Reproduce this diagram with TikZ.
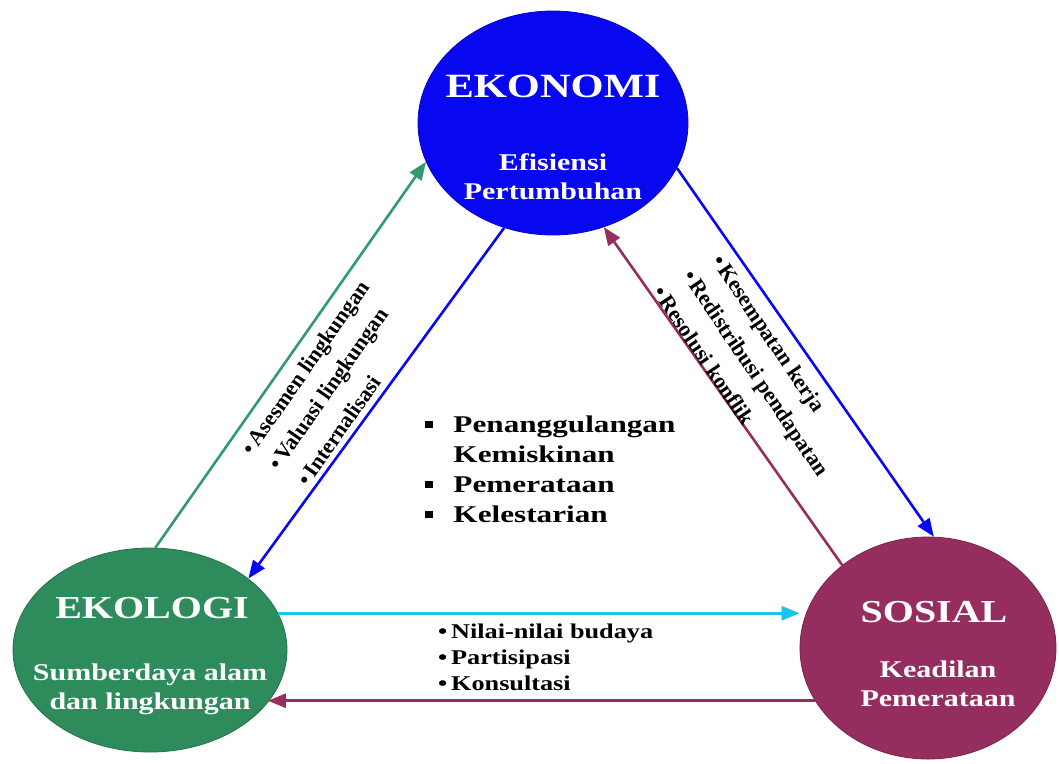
\documentclass[tikz,border=0pt]{standalone}
\usepackage{fontspec}
\setmainfont{Liberation Serif}
\usetikzlibrary{shapes.geometric, arrows.meta, positioning, calc}
\definecolor{ekoblue}{RGB}{8,8,240}
\definecolor{ekogreen}{RGB}{46,140,92}
\definecolor{sosred}{RGB}{150,45,95}
\definecolor{arrgreen}{RGB}{50,155,110}
\definecolor{arrcyan}{RGB}{30,195,235}
\newcommand{\wide}[2][1.25]{\scalebox{#1}[1]{#2}}
\newcommand{\sqbul}{\rule[0.15em]{0.24em}{0.32em}}
\tikzset{
  pillar/.style={ellipse, draw=#1!80!black, line width=0.8pt, fill=#1, inner sep=0pt},
  title/.style={text=white, font=\fontsize{32}{36}\selectfont\bfseries, inner sep=0pt, anchor=base},
  subtitle/.style={text=white, font=\fontsize{24}{29}\selectfont\bfseries, inner sep=0pt, anchor=base},
  link/.style={line width=2.6pt, -{Triangle[length=18pt,width=14pt]}},
  note/.style={font=\fontsize{22}{27}\selectfont\bfseries, inner sep=0pt, anchor=base west},
  goal/.style={font=\fontsize{24}{30}\selectfont\bfseries, inner sep=0pt, anchor=base west},
  culture/.style={font=\fontsize{21}{26}\selectfont\bfseries, inner sep=0pt, anchor=base west},
}
\begin{document}
\begin{tikzpicture}[x=1pt, y=-1pt]
  \path[use as bounding box, fill=white] (0,0) rectangle (1059,763);

  % Pillars
  \node[pillar=ekoblue, minimum width=270pt, minimum height=224pt] (ekonomi) at (553,123) {};
  \node[pillar=ekogreen, minimum width=274pt, minimum height=204pt] (ekologi) at (150,650) {};
  \node[pillar=sosred, minimum width=256pt, minimum height=222pt] (sosial) at (928,648) {};

  % Pillar texts
  \node[title, font=\fontsize{34}{38}\selectfont\bfseries] (ekonomiT) at (553,97) {\wide{EKONOMI}};
  \node[subtitle] (ekonomiS) at (553,170) {\wide{\begin{tabular}[t]{@{}c@{}}Efisiensi\\Pertumbuhan\end{tabular}}};
  \node[title] (ekologiT) at (152,618) {\wide{EKOLOGI}};
  \node[subtitle] (ekologiS) at (150,680) {\wide{\begin{tabular}[t]{@{}c@{}}Sumberdaya alam\\dan lingkungan\end{tabular}}};
  \node[title] (sosialT) at (934,622) {\wide{SOSIAL}};
  \node[subtitle] (sosialS) at (938,677) {\wide{\begin{tabular}[t]{@{}c@{}}Keadilan\\Pemerataan\end{tabular}}};

  % Links
  \draw[link, arrgreen] (ekologi.87) -- (ekonomi.197);
  \draw[link, ekoblue] (ekonomi.245) -- (ekologi.36);
  \draw[link, ekoblue] (ekonomi.340) -- (sosial.87);
  \draw[link, sosred] (sosial.136) -- (ekonomi.296);
  \draw[link, arrcyan] (ekologi.16) -- (ekologi.16 -| sosial.west);
  \draw[link, sosred] (sosial.205) -- (sosial.205 -| ekologi.336);

  % Left notes
  \node[note, rotate=55] (asesmen) at (252,457) {\textbullet\,Asesmen lingkungan};
  \node[note, rotate=55] (valuasi) at (279,472) {\textbullet\,Valuasi lingkungan};
  \node[note, rotate=55] (internal) at (308,488) {\textbullet\,Internalisasi};

  % Right notes
  \node[note, rotate=-56] (kerja) at (711,261) {\textbullet\,Kesempatan kerja};
  \node[note, rotate=-56] (redist) at (682,276) {\textbullet\,Redistribusi pendapatan};
  \node[note, rotate=-56] (konflik) at (652,292) {\textbullet\,Resolusi konflik};

  % Goals
  \node[goal] (goals) at (425,432) {\wide[1.3]{\begin{tabular}[t]{@{}l@{\hspace{16pt}}l@{}}
    \sqbul & Penanggulangan\\ & Kemiskinan\\ \sqbul & Pemerataan\\ \sqbul & Kelestarian
  \end{tabular}}};

  % Bottom notes
  \node[culture] (budaya) at (438,638) {\wide{\begin{tabular}[t]{@{}l@{\hspace{3pt}}l@{}}
    \textbullet & Nilai-nilai budaya\\ \textbullet & Partisipasi\\ \textbullet & Konsultasi
  \end{tabular}}};

\end{tikzpicture}
\end{document}
